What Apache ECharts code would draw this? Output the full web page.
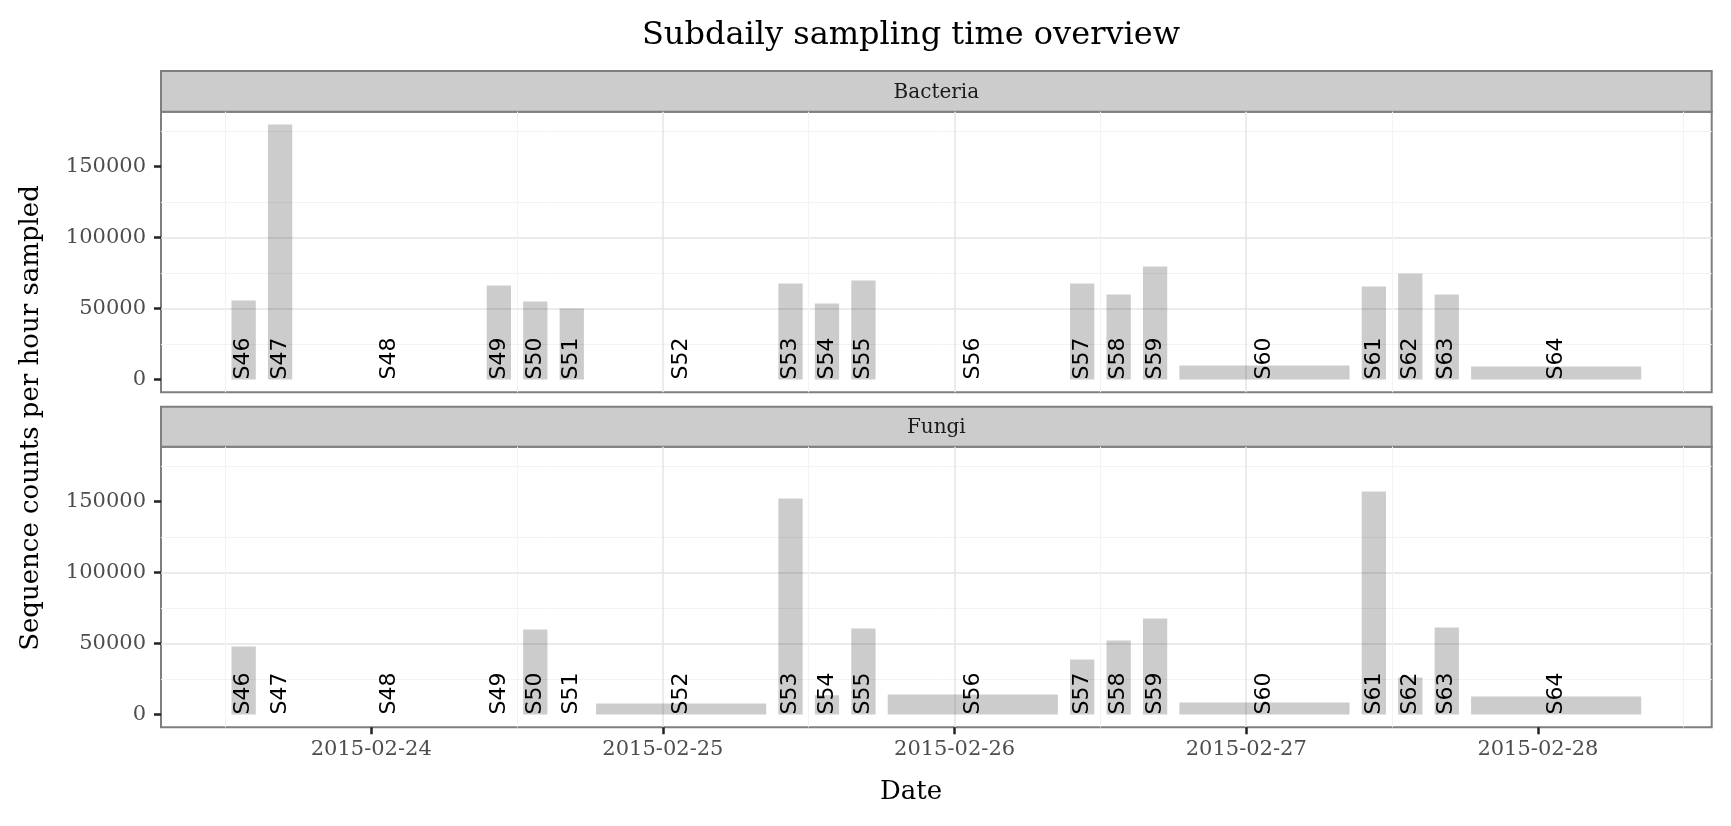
<!DOCTYPE html>
<html>
<head>
<meta charset="utf-8">
<script src="https://cdn.jsdelivr.net/npm/echarts@6/dist/echarts.min.js"></script>
<style>
html, body { margin: 0; padding: 0; background: #ffffff; }
#chart { width: 1731px; height: 826px; }
</style>
</head>
<body>
<div id="chart"></div>
<script>
// ---- data ----
const samples = ['S46','S47','S48','S49','S50','S51','S52','S53','S54','S55','S56','S57','S58','S59','S60','S61','S62','S63','S64'];
const sampleStart = [
  '2015-02-23 12:30','2015-02-23 15:30','2015-02-23 18:30',
  '2015-02-24 09:30','2015-02-24 12:30','2015-02-24 15:30','2015-02-24 18:30',
  '2015-02-25 09:30','2015-02-25 12:30','2015-02-25 15:30','2015-02-25 18:30',
  '2015-02-26 09:30','2015-02-26 12:30','2015-02-26 15:30','2015-02-26 18:30',
  '2015-02-27 09:30','2015-02-27 12:30','2015-02-27 15:30','2015-02-27 18:30'
];
const sampleEnd = [
  '2015-02-23 14:30','2015-02-23 17:30','2015-02-24 08:30',
  '2015-02-24 11:30','2015-02-24 14:30','2015-02-24 17:30','2015-02-25 08:30',
  '2015-02-25 11:30','2015-02-25 14:30','2015-02-25 17:30','2015-02-26 08:30',
  '2015-02-26 11:30','2015-02-26 14:30','2015-02-26 17:30','2015-02-27 08:30',
  '2015-02-27 11:30','2015-02-27 14:30','2015-02-27 17:30','2015-02-28 08:30'
];
const bacteria = [55600, 179600, null, 66200, 54900, 50000, null, 67600, 53500, 69700, null, 67600, 59900, 79600, 9900, 65500, 74600, 59900, 9200];
const fungi    = [47900, null, null, null, 59900, null, 7700, 152100, 13600, 60600, 14100, 38700, 52100, 67600, 8500, 157000, 26100, 61300, 12700];
const panelNames = ['Bacteria', 'Fungi'];
const xTickDates = ['2015-02-24','2015-02-25','2015-02-26','2015-02-27','2015-02-28'];
const yTicks = [0, 50000, 100000, 150000];
const chartTitle = 'Subdaily sampling time overview';
const xTitle = 'Date';
const yTitle = 'Sequence counts per hour sampled';

// ---- helpers ----
const toTs = s => Date.parse(s.replace(' ', 'T') + ':00Z');
const startTs = sampleStart.map(toTs);
const endTs = sampleEnd.map(toTs);
const tMin = Math.min.apply(null, startTs), tMax = Math.max.apply(null, endTs);
const xPad = (tMax - tMin) * 0.05;
const allVals = bacteria.concat(fungi).filter(v => v != null);
const vMax = Math.max.apply(null, allVals);
const yPad = vMax * 0.05;
const xTickTs = xTickDates.map(d => Date.parse(d + 'T00:00:00Z'));
const DAY = 86400000;

const serif = 'DejaVu Serif';
const L = 161, R = 1711.7, PH = 280.6;
const panelTop = [111.7, 446.7];
const stripTop = [71, 406.7];
const majorGrid = { color: '#e4e4e4', width: 1.5 };
const minorGrid = { color: '#f3f3f3', width: 1 };
const tickStyle = { color: '#222222', width: 2.5 };

function renderItem(params, api) {
  const s = api.value(0), e = api.value(1), v = api.value(2);
  const mid = (s + e) / 2;
  const base = api.coord([mid, 0]);
  const children = [];
  if (v != null && isFinite(v)) {
    const p0 = api.coord([s, v]);
    const p1 = api.coord([e, 0]);
    children.push({
      type: 'rect',
      shape: { x: p0[0], y: p0[1], width: p1[0] - p0[0], height: p1[1] - p0[1] },
      style: { fill: 'rgba(0,0,0,0.2)' }
    });
  }
  children.push({
    type: 'text',
    x: base[0], y: base[1],
    rotation: Math.PI / 2,
    style: {
      text: samples[params.dataIndex],
      fontFamily: 'DejaVu Sans', fontSize: 22, fill: '#000000',
      align: 'left', verticalAlign: 'middle'
    },
    z2: 10
  });
  return { type: 'group', children: children };
}

function seriesData(vals) {
  return samples.map((s, i) => [startTs[i], endTs[i], vals[i] == null ? '-' : vals[i]]);
}

const grids = [0, 1].map(i => ({
  left: L, top: panelTop[i], width: R - L, height: PH,
  show: true, borderColor: '#7f7f7f', borderWidth: 2, backgroundColor: 'transparent'
}));

const xAxes = [0, 1].map(i => ({
  type: 'value', gridIndex: i, position: 'bottom',
  min: tMin - xPad, max: tMax + xPad,
  minInterval: DAY, maxInterval: DAY,
  axisLine: { show: false, onZero: false },
  axisTick: { show: i === 1, inside: false, length: 7, lineStyle: tickStyle, customValues: xTickTs },
  axisLabel: {
    show: i === 1, customValues: xTickTs, margin: 12,
    fontFamily: serif, fontSize: 21, color: '#4d4d4d',
    formatter: v => new Date(v).toISOString().slice(0, 10)
  },
  splitLine: { show: true, showMinLine: false, showMaxLine: false, lineStyle: majorGrid },
  minorTick: { show: false, splitNumber: 2 },
  minorSplitLine: { show: true, lineStyle: minorGrid }
}));

const yAxes = [0, 1].map(i => ({
  type: 'value', gridIndex: i, position: 'left',
  min: -yPad, max: vMax + yPad,
  minInterval: 50000, maxInterval: 50000,
  axisLine: { show: false, onZero: false },
  axisTick: { show: true, inside: false, length: 7, lineStyle: tickStyle, customValues: yTicks },
  axisLabel: { customValues: yTicks, margin: 15, fontFamily: serif, fontSize: 21, color: '#4d4d4d', formatter: v => String(v) },
  splitLine: { show: true, showMinLine: false, showMaxLine: false, lineStyle: majorGrid },
  minorTick: { show: false, splitNumber: 2 },
  minorSplitLine: { show: true, lineStyle: minorGrid }
}));

const graphics = [];
[0, 1].forEach(i => {
  graphics.push({
    type: 'rect',
    shape: { x: L, y: stripTop[i], width: R - L, height: panelTop[i] - stripTop[i] },
    style: { fill: '#cccccc', stroke: '#7f7f7f', lineWidth: 2 }
  });
  graphics.push({
    type: 'text',
    x: (L + R) / 2, y: (stripTop[i] + panelTop[i]) / 2 + 1.5,
    style: { text: panelNames[i], fontFamily: serif, fontSize: 20, fill: '#1a1a1a', align: 'center', verticalAlign: 'middle' }
  });
});
graphics.push({
  type: 'text', x: 911, y: 36,
  style: { text: chartTitle, fontFamily: serif, fontSize: 32, fill: '#000000', align: 'center', verticalAlign: 'middle' }
});
graphics.push({
  type: 'text', x: 911, y: 792,
  style: { text: xTitle, fontFamily: serif, fontSize: 26, fill: '#000000', align: 'center', verticalAlign: 'middle' }
});
graphics.push({
  type: 'text', x: 31, y: 418, rotation: Math.PI / 2,
  style: { text: yTitle, fontFamily: serif, fontSize: 26, fill: '#000000', align: 'center', verticalAlign: 'middle' }
});

const chart = echarts.init(document.getElementById('chart'), null, { renderer: 'canvas' });
chart.setOption({
  animation: false,
  backgroundColor: '#ffffff',
  grid: grids,
  xAxis: xAxes,
  yAxis: yAxes,
  graphic: graphics,
  series: [bacteria, fungi].map((vals, i) => ({
    type: 'custom',
    xAxisIndex: i, yAxisIndex: i,
    encode: { x: [0, 1], y: 2 },
    renderItem: renderItem,
    data: seriesData(vals)
  }))
});
</script>
</body>
</html>
